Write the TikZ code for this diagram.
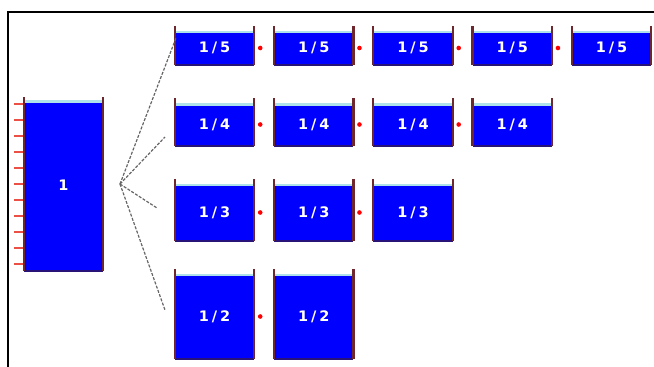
\documentclass[tikz,border=0pt]{standalone}
\usepackage{fontspec}
\newfontfamily\partfont{DejaVu Sans}[LetterSpace=20]
\usetikzlibrary{calc}

\definecolor{rimred}{RGB}{110,40,45}
\definecolor{lipblue}{RGB}{175,225,235}
\definecolor{baseblue}{RGB}{40,20,120}
\definecolor{tickred}{RGB}{235,80,70}

\begin{document}
\begin{tikzpicture}[x=1pt,y=-1pt,
    part/.style={fill=blue, text=white, inner sep=0pt, minimum width=79pt,
      font=\partfont\bfseries\fontsize{14.5}{14.5}\selectfont},
    rim/.style={draw=rimred, line width=2.2pt},
    lip/.style={draw=lipblue, line width=2.5pt},
    base/.style={draw=baseblue, line width=2pt},
    fanline/.style={draw=black!60, dashed, dash pattern=on 3pt off 1.5pt, line width=1.2pt}]
  \useasboundingbox (0,0) rectangle (654,367);

  % Frame
  \draw [line width=2.5pt] (8,367) -- (8,12) -- (654,12);

  % Whole
  \node [part, minimum height=170pt] (whole) at (63.5,185.5) {1};
  \foreach \k in {0,...,10}
    \draw [tickred, line width=1.5pt] (14,104+16*\k) -- (24,104+16*\k);
  \draw [lip] ([yshift=-1.2pt]whole.north west) -- ([yshift=-1.2pt]whole.north east);
  \draw [base] (whole.south west) -- (whole.south east);
  \draw [rim] ([yshift=3pt]whole.north west) -- (whole.south west);
  \draw [rim] ([yshift=3pt]whole.north east) -- (whole.south east);

  % Parts, one row for each denominator
  \foreach \n/\yc in {5/48, 4/124.5, 3/212.5, 2/316.5} {
    \foreach \i in {1,...,\n} {
      \node [part, minimum height={170pt/\n}] (p\n-\i) at (214.5+99.25*\i-99.25,\yc) {1/\n};
      \draw [lip] ([yshift=-1.2pt]p\n-\i.north west) -- ([yshift=-1.2pt]p\n-\i.north east);
      \draw [base] (p\n-\i.south west) -- (p\n-\i.south east);
      \draw [rim] ([yshift=5pt]p\n-\i.north west) -- (p\n-\i.south west);
      \draw [rim] ([yshift=5pt]p\n-\i.north east) -- (p\n-\i.south east);
      \ifnum\i<\n
        \fill [red] ([xshift=6pt]p\n-\i.east) circle (2.3pt);
      \fi
    }
  }

  % Fan of dashed lines
  \coordinate (fan) at (120,184);
  \coordinate (e5) at (176,38);
  \coordinate (e4) at (165,137);
  \coordinate (e3) at (157,208);
  \coordinate (e2) at (165,310);
  \foreach \n in {5,4,3,2}
    \draw [fanline] (fan) -- (e\n);
\end{tikzpicture}
\end{document}
